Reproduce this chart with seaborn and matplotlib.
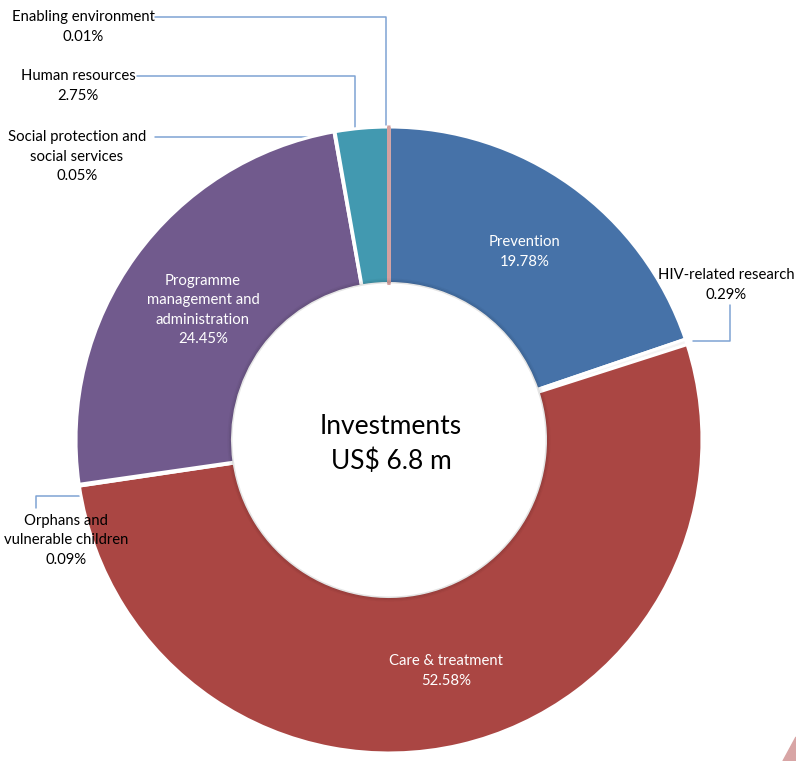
import matplotlib
matplotlib.use("Agg")
import matplotlib.pyplot as plt
import seaborn as sns

# Data (clockwise from 12 o'clock)
categories = ["Prevention", "HIV-related research", "Care & treatment",
              "Orphans and\nvulnerable children",
              "Programme\nmanagement and\nadministration",
              "Social protection and\nsocial services",
              "Human resources", "Enabling environment"]
shares = [19.78, 0.29, 52.58, 0.09, 24.45, 0.05, 2.75, 0.01]
colors = ["#4672A8", "#F4F4F4", "#AA4643", "#F4F4F4", "#715A8D",
          "#F4F4F4", "#4299B0", "#D4A09F"]
center_text = "Investments\nUS$ 6.8 m"

sns.set_theme(style="white")
plt.rcParams['font.family'] = ['Lato', 'DejaVu Sans']

W, H = 796, 761
def Y(py):
    return H - py

fig = plt.figure(figsize=(W / 100, H / 100), dpi=100)
ax = fig.add_axes([0, 0, 1, 1])

cx, cy, R = 389, 440, 313
wedges, _ = ax.pie(shares, colors=colors, startangle=90, counterclock=False,
                   center=(cx, Y(cy)), radius=R,
                   wedgeprops=dict(width=R * 0.5, edgecolor="white", linewidth=2.2))
for w in wedges:
    w.set_zorder(3)
# make the tiny enabling-environment slice visible like in the original
wedges[-1].set_edgecolor(colors[-1])
wedges[-1].set_linewidth(2.2)

# soft shadow on inner rim
for i, a in enumerate([0.10, 0.06, 0.03]):
    ring = plt.Circle((cx, Y(cy)), R * 0.5 + 1 + i * 1.5, fill=False,
                      edgecolor="black", alpha=a, linewidth=1.5, zorder=4)
    ax.add_patch(ring)

ax.set_xlim(0, W)
ax.set_ylim(0, H)
ax.set_aspect("equal")
ax.axis("off")

lab_fs = 10.7
line_c = "#7FA3D3"

# labels inside wedges (white)
inside = {0: (525, 252), 2: (446, 671), 4: (203, 310)}
for i, (px, py) in inside.items():
    ax.text(px, Y(py), f"{categories[i]}\n{shares[i]:.2f}%", ha="center", va="center",
            color="white", fontsize=lab_fs, linespacing=1.5, zorder=5)

# outside labels (black) with leader lines
outside = {1: (726, 285), 3: (66, 540), 5: (77, 157), 6: (78, 86), 7: (83, 27)}
for i, (px, py) in outside.items():
    ax.text(px, Y(py), f"{categories[i]}\n{shares[i]:.2f}%", ha="center", va="center",
            color="black", fontsize=lab_fs, linespacing=1.5, zorder=5)

leaders = [
    ([386, 386, 155], [128, 17, 17]),
    ([355, 355, 137], [131, 76, 76]),
    ([330, 155], [137, 137]),
    ([730, 730, 693], [305, 341, 341]),
    ([36, 36, 80], [508, 496, 496]),
]
for xs, ys in leaders:
    ax.plot(xs, [Y(v) for v in ys], color=line_c, linewidth=1.1, zorder=2)

ax.text(cx + 2, Y(cy + 4), center_text, ha="center", va="center",
        fontsize=19, linespacing=1.45, color="black", zorder=6)

# slide decoration in the bottom-right corner
ax.add_patch(plt.Polygon([(783, Y(761)), (796, Y(737)), (796, Y(761))],
                         closed=True, color="#D8A5A5", zorder=1))

fig.savefig("out.png", dpi=100)
